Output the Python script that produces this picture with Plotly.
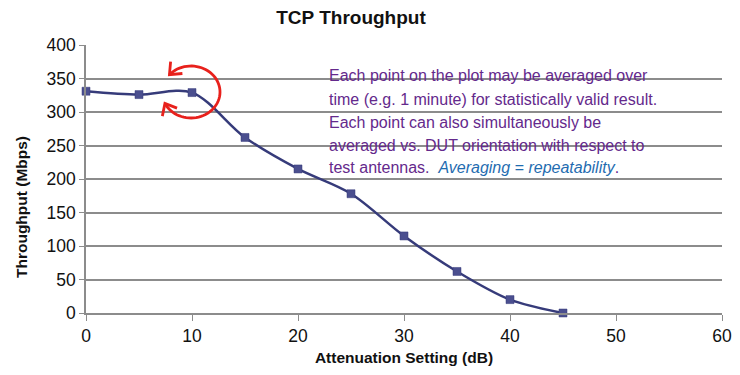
import numpy as np
import plotly.graph_objects as go

# Data
attenuation_db = [0, 5, 10, 15, 20, 25, 30, 35, 40, 45]
throughput_mbps = [331, 326, 329, 262, 215, 178, 115, 62, 20, 0]
x_ticks = [0, 10, 20, 30, 40, 50, 60]
y_ticks = [0, 50, 100, 150, 200, 250, 300, 350, 400]
note_lines = [
    "Each point on the plot may be averaged over",
    "time (e.g. 1 minute) for statistically valid result.",
    "Each point can also simultaneously be",
    "averaged vs. DUT orientation with respect to",
    "test antennas.  <i><span style='color:#1f6cb0'>Averaging = repeatability</span></i>.",
]

FONT = "Liberation Sans Narrow, Arial Narrow, Liberation Sans, Arial, sans-serif"
OFF = 8  # page body margin
PAGE_W, PAGE_H = 740, 375
W, H = PAGE_W - OFF, PAGE_H - OFF
# plot area in page pixels: x 86..722, y 45..313
L = 86 - OFF
T = 45 - OFF
R = W - (722 - OFF)
B = H - (313 - OFF)
XR = (0, 60)
YR = (0, 400)
pw, ph = W - L - R, H - T - B


def px2d(px, py):
    """page pixel -> data coords"""
    fx, fy = px - OFF, py - OFF
    return (XR[0] + (fx - L) / pw * (XR[1] - XR[0]),
            YR[0] + (H - B - fy) / ph * (YR[1] - YR[0]))


def px2paper(px, py):
    fx, fy = px - OFF, py - OFF
    return (fx - L) / pw, (H - B - fy) / ph


fig = go.Figure()
fig.add_trace(go.Scatter(
    x=attenuation_db, y=throughput_mbps, mode="lines+markers",
    line=dict(color="#363b7a", width=2.5, shape="spline", smoothing=0.9),
    marker=dict(symbol="square", size=8, color="#4b4f8f",
                line=dict(color="#363b7a", width=0.5)),
    showlegend=False, cliponaxis=False,
))

# Red circular arrow (decoration), built in page-pixel space
cx, cy, rx, ry = 191, 92, 29, 26
a0, a1 = np.deg2rad(138), np.deg2rad(-154)
angs = np.linspace(a0, a1, 60)
pts = [px2d(cx + rx * np.cos(a), cy - ry * np.sin(a)) for a in angs]
path = "M " + " L ".join(f"{x:.4f},{y:.4f}" for x, y in pts)
fig.add_shape(type="path", path=path, xref="x", yref="y",
              line=dict(color="#e8211c", width=2.8))


def arrow_head(a, direction):
    tx, ty = cx + rx * np.cos(a), cy - ry * np.sin(a)
    dx, dy = -rx * np.sin(a), -ry * np.cos(a)
    n = np.hypot(dx, dy)
    dx, dy = dx / n * direction, dy / n * direction
    size = 13
    wings = []
    for s in (+1, -1):
        ang = np.deg2rad(40) * s
        bx = -(dx * np.cos(ang) - dy * np.sin(ang))
        by = -(dx * np.sin(ang) + dy * np.cos(ang))
        wings.append((tx + bx * size, ty + by * size))
    t = px2d(tx, ty)
    w1 = px2d(*wings[0])
    w2 = px2d(*wings[1])
    p = f"M {w1[0]:.4f},{w1[1]:.4f} L {t[0]:.4f},{t[1]:.4f} L {w2[0]:.4f},{w2[1]:.4f}"
    fig.add_shape(type="path", path=p, xref="x", yref="y",
                  line=dict(color="#e8211c", width=2.8))


arrow_head(a0, +1)
arrow_head(a1, -1)

line_y = [76, 99, 122, 145, 167]
for txt, py in zip(note_lines, line_y):
    ax_, ay_ = px2paper(329, py)
    fig.add_annotation(text=txt, xref="paper", yref="paper", x=ax_, y=ay_,
                       xanchor="left", yanchor="middle", align="left", showarrow=False,
                       xshift=-2,
                       font=dict(family=FONT, size=16, color="#64298c"))

tx_, ty_ = px2paper(21, 207)
fig.add_annotation(text="<b>Throughput (Mbps)</b>", xref="paper", yref="paper",
                   x=tx_, y=ty_, textangle=-90,
                   xanchor="center", yanchor="middle", showarrow=False,
                   font=dict(family=FONT, size=15.5, color="#111111"))

fig.update_layout(
    width=W, height=H,
    margin=dict(l=L, r=R, t=T, b=B, autoexpand=False),
    paper_bgcolor="white", plot_bgcolor="white",
    title=dict(text="<b>TCP Throughput</b>", x=(351 - OFF) / W, xanchor="center",
               y=1 - (17 - OFF) / H, yanchor="middle",
               font=dict(family=FONT, size=19, color="#111111")),
    xaxis=dict(range=list(XR), tickvals=x_ticks, showgrid=False, zeroline=False,
               automargin=False,
               showline=True, linecolor="#8c8c8c", linewidth=1.5,
               ticks="outside", ticklen=6, tickcolor="#8c8c8c",
               tickfont=dict(family=FONT, size=17.5, color="#111111"),
               title=dict(text="<b>Attenuation Setting (dB)</b>", standoff=7,
                          font=dict(family=FONT, size=15.5, color="#111111"))),
    yaxis=dict(range=list(YR), tickvals=y_ticks, showgrid=True, automargin=False,
               gridcolor="#8c8c8c", gridwidth=1.5, zeroline=False,
               showline=True, linecolor="#8c8c8c", linewidth=1.5,
               ticks="outside", ticklen=5, tickcolor="#8c8c8c",
               tickfont=dict(family=FONT, size=17.5, color="#111111")),
)

fig.write_html("out.html")
